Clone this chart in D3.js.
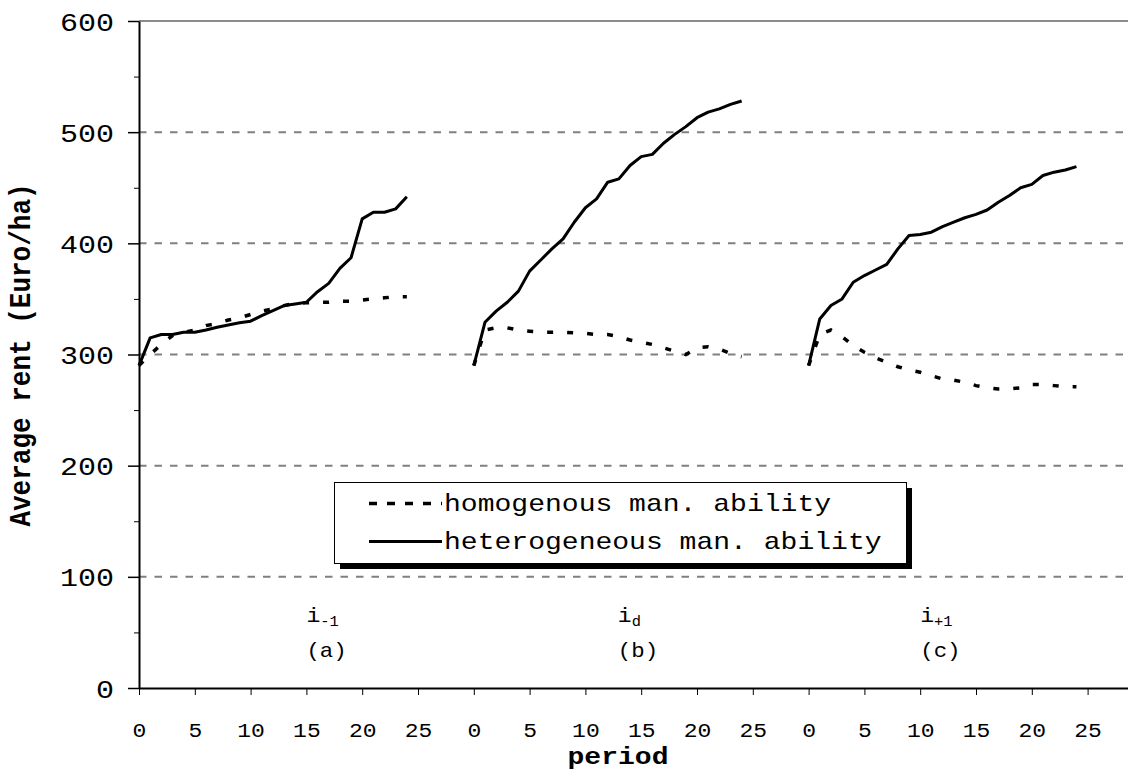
<!DOCTYPE html>
<html>
<head>
<meta charset="utf-8">
<script src="https://d3js.org/d3.v7.min.js"></script>
<style>
  body { margin: 0; background: #fff; }
  svg { display: block; }
  text { font-family: "Liberation Mono", "Courier New", monospace; fill: #000; }
</style>
</head>
<body>
<svg id="chart" width="1128" height="771"></svg>
<script>
// periods run 0..24 in each of the three panels
var periods = d3.range(25);
var panelNames = ["(a)", "(b)", "(c)"];
var panelSubs = ["-1", "d", "+1"];
var seriesNames = ["homogenous man. ability", "heterogeneous man. ability"];

// homogenous management ability (dashed)
var homA = [290, 300, 309, 317, 320, 322, 326, 328, 331, 333, 336, 339, 341, 344, 346, 346.5, 347, 347, 348, 348, 349, 350, 351, 352, 352];
var homB = [290, 322, 324, 324, 322, 321, 320, 320, 320, 319.5, 319, 318, 318, 316, 313, 311, 309, 306, 303, 300, 306, 307, 305, 301, 298];
var homC = [290, 318, 322, 316, 308, 302, 297, 293, 289, 286, 284, 281, 278, 277, 275, 272, 270, 269, 269, 270, 273, 273, 272, 271, 271];

// heterogeneous management ability (solid)
var hetA = [290, 315, 318, 318, 320, 320, 322, 324.5, 326.5, 328.5, 330, 335, 339.5, 344, 345.5, 347, 356.5, 364, 377.5, 387, 422, 428, 428, 431, 442];
var hetB = [290, 329, 339, 347, 357, 375, 385, 395, 404, 419, 432, 440, 455, 458, 470, 478, 480, 490, 498, 505, 513, 518, 521, 525, 528];
var hetC = [290, 332, 344, 350, 365, 371, 376, 381, 395, 407, 408, 410, 415, 419, 423, 426, 430, 437, 443, 450, 453, 461, 464, 466, 469];

var yTicks = [0, 100, 200, 300, 400, 500, 600];
var yMinor = [50, 150, 250, 350, 450, 550];
var xTickLabels = [0, 5, 10, 15, 20, 25];

var hom = [homA, homB, homC];
var het = [hetA, hetB, hetC];

var svg = d3.select("#chart");
var perPanel = 30;   // category slots per panel
var step = 11.16;
var plotLeft = 139, plotTop = 21, plotBottom = 688;

var x = d3.scaleLinear().domain([0, 3 * perPanel]).range([plotLeft, plotLeft + 3 * perPanel * step]);
var y = d3.scaleLinear().domain([0, 600]).range([plotBottom, plotTop]);

// gridlines
svg.append("g").selectAll("line")
  .data(yTicks.filter(function (d) { return d > 0; }))
  .enter().append("line")
  .attr("x1", plotLeft).attr("x2", 1128)
  .attr("y1", function (d) { return y(d); })
  .attr("y2", function (d) { return y(d); })
  .attr("stroke", function (d) { return d === 600 ? "#666" : "#808080"; })
  .attr("stroke-width", function (d) { return d === 600 ? 1.5 : 2; })
  .attr("stroke-dasharray", function (d) { return d === 600 ? null : "7.5,8"; });

// x axis
var xTickVals = [];
for (var p = 0; p < 3; p++) {
  xTickLabels.forEach(function (t) { xTickVals.push(p * perPanel + t); });
}
var xAxis = svg.append("g")
  .attr("transform", "translate(0," + plotBottom + ")")
  .call(d3.axisBottom(x).tickValues(xTickVals).tickSize(7).tickSizeOuter(0)
    .tickFormat(function (d) { return d % perPanel; }));
xAxis.select(".domain").attr("stroke", "#000").attr("stroke-width", 2);
xAxis.selectAll(".tick line").attr("stroke", "#000").attr("stroke-width", 1);
xAxis.selectAll(".tick text")
  .attr("y", 49).attr("dy", 0)
  .attr("transform", "scale(1.15,1)")
  .style("font-size", "20px");

// y axis, minor ticks first
svg.append("g")
  .attr("transform", "translate(" + plotLeft + ",0)")
  .call(d3.axisLeft(y).tickValues(yMinor).tickSize(5).tickSizeOuter(0).tickFormat(""))
  .call(function (g) { g.select(".domain").remove(); })
  .selectAll(".tick line").attr("stroke", "#000");

var yAxis = svg.append("g")
  .attr("transform", "translate(" + plotLeft + ",0)")
  .call(d3.axisLeft(y).tickValues(yTicks).tickSize(11).tickSizeOuter(0));
yAxis.select(".domain").attr("stroke", "#000").attr("stroke-width", 2);
yAxis.selectAll(".tick line").attr("stroke", "#000").attr("stroke-width", 1.5);
yAxis.selectAll(".tick text")
  .attr("x", -25 / 1.2).attr("dy", "0.36em")
  .attr("transform", "scale(1.2,1)")
  .style("font-size", "25px");

// series lines
var line = function (p) {
  return d3.line()
    .x(function (d, i) { return x(p * perPanel + periods[i]); })
    .y(function (d) { return y(d); });
};
for (var k = 0; k < 3; k++) {
  svg.append("path").datum(hom[k])
    .attr("d", line(k))
    .attr("fill", "none").attr("stroke", "#000")
    .attr("stroke-width", 3.5).attr("stroke-dasharray", "6,14");
  svg.append("path").datum(het[k])
    .attr("d", line(k))
    .attr("fill", "none").attr("stroke", "#000")
    .attr("stroke-width", 3).attr("stroke-linejoin", "round");
}

// panel labels
var labelOffset = [15.0, 12.9, 10.0];
panelNames.forEach(function (name, k) {
  var lx = x(k * perPanel + labelOffset[k]);
  var t = svg.append("text")
    .attr("transform", "translate(" + lx + ",622) scale(1.1,1)")
    .style("font-size", "21px");
  t.append("tspan").text("i");
  t.append("tspan").attr("dy", 4).style("font-size", "14px").text(panelSubs[k]);
  svg.append("text")
    .attr("transform", "translate(" + lx + ",657) scale(1.12,1)")
    .style("font-size", "20px")
    .text(name);
});

// legend
var lg = svg.append("g");
lg.append("rect").attr("x", 340).attr("y", 488).attr("width", 572).attr("height", 81).attr("fill", "#000");
lg.append("rect").attr("x", 334.5).attr("y", 482.5).attr("width", 572).attr("height", 81)
  .attr("fill", "#fff").attr("stroke", "#000").attr("stroke-width", 1);
var rowsY = [503.5, 541.5];
seriesNames.forEach(function (name, i) {
  lg.append("line")
    .attr("x1", 369).attr("x2", 442).attr("y1", rowsY[i]).attr("y2", rowsY[i])
    .attr("stroke", "#000").attr("stroke-width", i === 0 ? 3.5 : 3)
    .attr("stroke-dasharray", i === 0 ? "8,10" : null);
  lg.append("text")
    .attr("transform", "translate(444," + (rowsY[i] + 7.5) + ") scale(1.22,1)")
    .style("font-size", "23px")
    .text(name);
});

// axis titles
svg.append("text")
  .attr("transform", "translate(618,764) scale(1.22,1)")
  .attr("text-anchor", "middle")
  .style("font-size", "23px").style("font-weight", "bold")
  .text("period");
svg.append("text")
  .attr("transform", "translate(30,355) scale(1.1,1) rotate(-90)")
  .attr("text-anchor", "middle")
  .style("font-size", "26px").style("font-weight", "bold")
  .text("Average rent (Euro/ha)");
</script>
</body>
</html>
